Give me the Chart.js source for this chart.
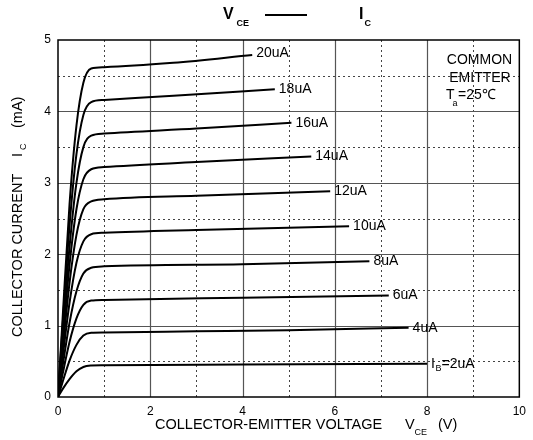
<!DOCTYPE html>
<html><head><meta charset="utf-8">
<script src="https://cdn.jsdelivr.net/npm/chart.js@4.4.0/dist/chart.umd.min.js"></script>
<style>html,body{margin:0;padding:0;background:#fff;}canvas{display:block;}</style>
</head><body>
<canvas id="c" width="533" height="440"></canvas>
<script>
// ---- data ----
const xTickValues = [0, 2, 4, 6, 8, 10];
const yTickValues = [0, 1, 2, 3, 4, 5];
const baseCurrentLabels = ["2uA", "4uA", "6uA", "8uA", "10uA", "12uA", "14uA", "16uA", "18uA", "20uA"];

const vce_2uA  = [0, 0.1, 0.25, 0.4, 0.55, 0.72, 1, 4, 8.0];
const ic_2uA   = [0, 0.11, 0.25, 0.36, 0.42, 0.44, 0.445, 0.455, 0.467];
const vce_4uA  = [0, 0.1, 0.25, 0.4, 0.55, 0.72, 1, 3, 5, 7.6];
const ic_4uA   = [0, 0.21, 0.51, 0.73, 0.86, 0.90, 0.905, 0.92, 0.935, 0.97];
const vce_6uA  = [0, 0.1, 0.25, 0.4, 0.55, 0.72, 1, 4, 7.17];
const ic_6uA   = [0, 0.32, 0.77, 1.10, 1.29, 1.35, 1.36, 1.39, 1.42];
const vce_8uA  = [0, 0.1, 0.25, 0.4, 0.55, 0.72, 1, 4, 6.75];
const ic_8uA   = [0, 0.43, 1.04, 1.48, 1.73, 1.81, 1.83, 1.86, 1.90];
const vce_10uA = [0, 0.1, 0.25, 0.4, 0.55, 0.72, 1, 3, 6.31];
const ic_10uA  = [0, 0.55, 1.32, 1.88, 2.18, 2.28, 2.30, 2.34, 2.39];
const vce_12uA = [0, 0.1, 0.25, 0.4, 0.55, 0.72, 1, 3, 5.9];
const ic_12uA  = [0, 0.66, 1.60, 2.27, 2.63, 2.74, 2.77, 2.82, 2.88];
const vce_14uA = [0, 0.1, 0.25, 0.4, 0.55, 0.72, 1, 3, 5.49];
const ic_14uA  = [0, 0.77, 1.85, 2.63, 3.05, 3.19, 3.22, 3.29, 3.37];
const vce_16uA = [0, 0.1, 0.25, 0.4, 0.55, 0.72, 1, 3, 5.06];
const ic_16uA  = [0, 0.88, 2.10, 3.00, 3.50, 3.66, 3.69, 3.76, 3.84];
const vce_18uA = [0, 0.1, 0.25, 0.4, 0.55, 0.72, 1, 2.5, 4.7];
const ic_18uA  = [0, 1.00, 2.40, 3.40, 3.95, 4.13, 4.16, 4.22, 4.31];
const vce_20uA = [0, 0.1, 0.25, 0.4, 0.55, 0.72, 1, 2.5, 4.21];
const ic_20uA  = [0, 1.10, 2.70, 3.80, 4.40, 4.60, 4.62, 4.68, 4.79];

const vceSeries = [vce_2uA, vce_4uA, vce_6uA, vce_8uA, vce_10uA, vce_12uA, vce_14uA, vce_16uA, vce_18uA, vce_20uA];
const icSeries  = [ic_2uA, ic_4uA, ic_6uA, ic_8uA, ic_10uA, ic_12uA, ic_14uA, ic_16uA, ic_18uA, ic_20uA];

const FONT = '"Liberation Sans", Arial, Helvetica, sans-serif';

const datasets = baseCurrentLabels.map((lab, i) => ({
  label: lab,
  data: vceSeries[i].map((x, j) => ({x: x, y: icSeries[i][j]})),
  showLine: true,
  borderColor: '#000',
  borderWidth: 2,
  pointRadius: 0,
  fill: false,
  cubicInterpolationMode: 'monotone'
}));

const gridPlugin = {
  id: 'gridPlugin',
  beforeDatasetsDraw(chart) {
    const {ctx, chartArea: a, scales: {x, y}} = chart;
    ctx.save();
    // vertical lines
    for (let v = 1; v < 10; v++) {
      const px = Math.round(x.getPixelForValue(v)) + 0.5;
      ctx.beginPath();
      if (v % 2 === 0) { ctx.setLineDash([]); ctx.strokeStyle = '#555'; ctx.lineWidth = 1.2; }
      else { ctx.setLineDash([2, 3]); ctx.strokeStyle = '#444'; ctx.lineWidth = 1; }
      ctx.moveTo(px, a.top); ctx.lineTo(px, a.bottom); ctx.stroke();
    }
    // horizontal lines
    for (let k = 1; k < 10; k++) {
      const v = k / 2;
      const py = Math.round(y.getPixelForValue(v)) + 0.5;
      ctx.beginPath();
      if (k % 2 === 0) { ctx.setLineDash([]); ctx.strokeStyle = '#555'; ctx.lineWidth = 1.2; }
      else { ctx.setLineDash([2, 3]); ctx.strokeStyle = '#444'; ctx.lineWidth = 1; }
      ctx.moveTo(a.left, py); ctx.lineTo(a.right, py); ctx.stroke();
    }
    ctx.setLineDash([]);
    ctx.strokeStyle = '#000';
    ctx.lineWidth = 1.5;
    ctx.strokeRect(a.left, a.top, a.right - a.left, a.bottom - a.top);
    ctx.restore();
  },
  afterDatasetsDraw(chart) {
    const {ctx, scales: {x, y}} = chart;
    ctx.save();
    ctx.fillStyle = '#000';
    ctx.textBaseline = 'middle';
    ctx.textAlign = 'left';
    // curve labels
    baseCurrentLabels.forEach((lab, i) => {
      const xs = vceSeries[i], ys = icSeries[i];
      const px = x.getPixelForValue(xs[xs.length - 1]) + 4;
      const py = y.getPixelForValue(ys[ys.length - 1]);
      ctx.font = '14px ' + FONT;
      if (i === 0) {
        ctx.fillText('I', px, py);
        const w = ctx.measureText('I').width;
        ctx.font = '9px ' + FONT;
        ctx.fillText('B', px + w + 0.5, py + 5);
        const wb = ctx.measureText('B').width;
        ctx.font = '14px ' + FONT;
        ctx.fillText('=' + lab, px + w + wb + 0.5, py);
      } else {
        ctx.fillText(lab, px, py - (i === 9 ? 2 : 0));
      }
    });
    // condition box text
    ctx.font = '14px ' + FONT;
    ctx.textAlign = 'center';
    ctx.fillText('COMMON', 479.5, 60);
    ctx.fillText('EMITTER', 480, 78);
    ctx.textAlign = 'left';
    ctx.fillText('T', 446, 95);
    ctx.font = '9px ' + FONT;
    ctx.fillText('a', 452.5, 104);
    ctx.font = '14px ' + FONT;
    ctx.fillText('=25\u2103', 458, 95);

    // title
    ctx.font = 'bold 16px ' + FONT;
    ctx.fillText('V', 223, 15);
    ctx.font = 'bold 9px ' + FONT;
    ctx.fillText('CE', 236.5, 24);
    ctx.font = 'bold 16px ' + FONT;
    ctx.fillText('I', 359, 15);
    ctx.font = 'bold 9px ' + FONT;
    ctx.fillText('C', 364.5, 24);
    ctx.beginPath();
    ctx.strokeStyle = '#000';
    ctx.lineWidth = 2;
    ctx.moveTo(265, 15); ctx.lineTo(307, 15); ctx.stroke();

    // x axis title
    ctx.font = '14.5px ' + FONT;
    ctx.fillText('COLLECTOR-EMITTER VOLTAGE', 155, 425);
    ctx.fillText('V', 405, 425);
    ctx.fillText('(V)', 438, 425);
    ctx.font = '9px ' + FONT;
    ctx.fillText('CE', 414.5, 433);

    // y axis title (rotated)
    ctx.translate(17.5, 0);
    ctx.rotate(-Math.PI / 2);
    ctx.font = '14.5px ' + FONT;
    ctx.fillText('COLLECTOR CURRENT', -337, 0);
    ctx.fillText('I', -157, 0);
    ctx.fillText('(mA)', -128, 0);
    ctx.font = '9px ' + FONT;
    ctx.fillText('C', -150, 6);
    ctx.restore();
  }
};

new Chart(document.getElementById('c'), {
  type: 'scatter',
  data: {datasets},
  options: {
    responsive: false,
    animation: false,
    devicePixelRatio: 1,
    layout: {padding: {top: 40, right: 7, left: 0, bottom: 0}},
    plugins: {legend: {display: false}, tooltip: {enabled: false}, title: {display: false}},
    scales: {
      x: {
        type: 'linear', min: 0, max: 10,
        afterFit(s) { s.height = 43; },
        afterBuildTicks(s) { s.ticks = xTickValues.map(v => ({value: v})); },
        grid: {display: false, drawTicks: false},
        border: {display: false},
        ticks: {color: '#000', padding: 7, font: {family: FONT, size: 12}, maxRotation: 0}
      },
      y: {
        type: 'linear', min: 0, max: 5,
        afterFit(s) { s.width = 58; },
        afterBuildTicks(s) { s.ticks = yTickValues.map(v => ({value: v})); },
        grid: {display: false, drawTicks: false},
        border: {display: false},
        ticks: {color: '#000', padding: 7, font: {family: FONT, size: 12}}
      }
    }
  },
  plugins: [gridPlugin]
});
</script>
</body></html>
